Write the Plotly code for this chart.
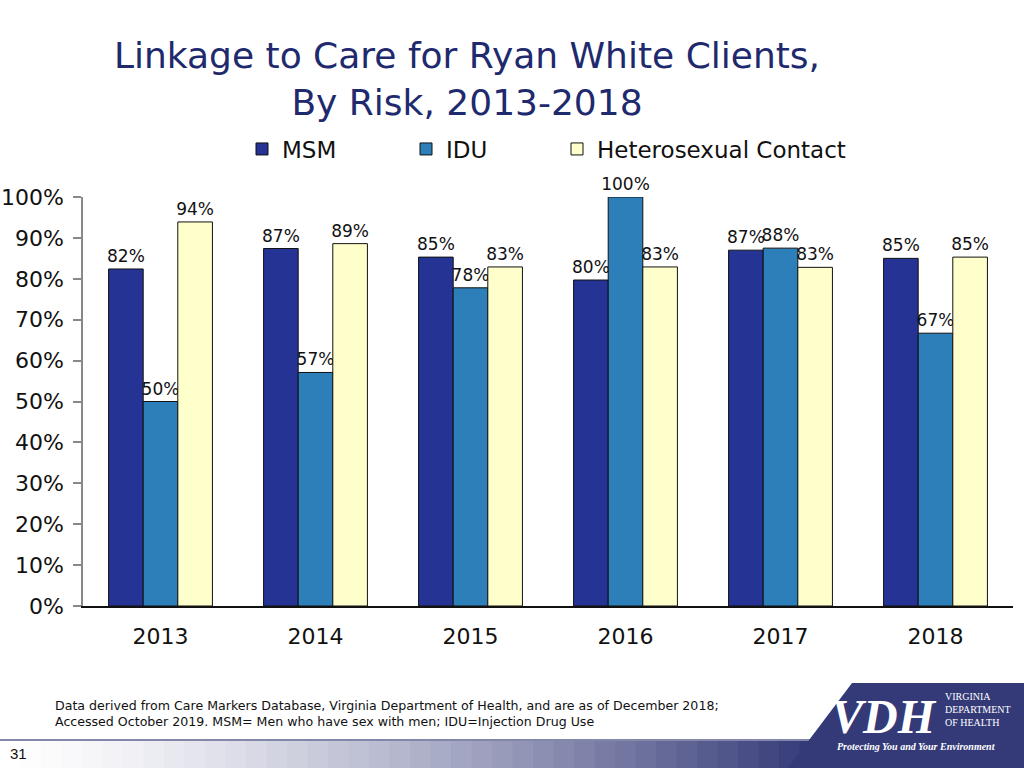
import plotly.graph_objects as go

years = ["2013", "2014", "2015", "2016", "2017", "2018"]
msm = [82.4, 87.4, 85.3, 79.7, 87.0, 85.0]
idu = [50.0, 57.1, 77.8, 100.0, 87.5, 66.7]
het = [93.9, 88.6, 82.9, 82.9, 82.8, 85.3]
series_names = ["MSM", "IDU", "Heterosexual Contact"]
y_ticks = [0, 10, 20, 30, 40, 50, 60, 70, 80, 90, 100]
y_tick_labels = [f"{v}%" for v in y_ticks]

colors = ["#253494", "#2C7FB8", "#FFFFCC"]
FONT = "DejaVu Sans, Open Sans, sans-serif"
SERIF = "Liberation Serif, DejaVu Serif, serif"

W, H = 1024, 768
L, R, T, B = 83, 11, 197, 162
pw, ph = W - L - R, H - T - B


def px(x):
    return (x - L) / pw


def py(y):
    return (H - B - y) / ph


legend_ids = ["legend", "legend2", "legend3"]
legend_text_x = [282, 446, 597]

fig = go.Figure()
for name, vals, c, lg in zip(series_names, [msm, idu, het], colors, legend_ids):
    fig.add_trace(go.Bar(
        x=years, y=vals, name=name, legend=lg, showlegend=True,
        marker=dict(color=c, line=dict(color="#111111", width=1)),
        texttemplate="%{y:.0f}%", textposition="outside",
        textfont=dict(size=17, color="#111111", family=FONT),
        cliponaxis=False,
    ))

shapes = []
# gradient band at bottom
n = 40
x0p, x1p = 0, 820
for i in range(n):
    t = (i / (n - 1)) ** 1.4
    r = int(255 + (52 - 255) * t)
    g = int(255 + (58 - 255) * t)
    b = int(255 + (120 - 255) * t)
    xa = x0p + (x1p - x0p) * i / n
    xb = x0p + (x1p - x0p) * (i + 1) / n + 1
    shapes.append(dict(type="rect", xref="paper", yref="paper",
                       x0=px(xa), x1=px(xb), y0=py(768), y1=py(741),
                       fillcolor=f"rgb({r},{g},{b})", line=dict(width=0), layer="below"))
shapes.append(dict(type="line", xref="paper", yref="paper",
                   x0=px(0), x1=px(1024), y0=py(740), y1=py(740),
                   line=dict(color="#5A5F8C", width=1.5)))
# logo parallelogram
path = f"M {px(788)} {py(768)} L {px(852)} {py(683)} L {px(1024)} {py(683)} L {px(1024)} {py(768)} Z"
shapes.append(dict(type="path", xref="paper", yref="paper", path=path,
                   fillcolor="#343A78", line=dict(width=0)))

annotations = [
    dict(text="Data derived from Care Markers Database, Virginia Department of Health, and are as of December 2018;<br>Accessed October 2019. MSM= Men who have sex with men; IDU=Injection Drug Use",
         xref="paper", yref="paper", x=px(53), y=py(713), xanchor="left", yanchor="middle",
         align="left", showarrow=False, font=dict(size=12.6, color="#111111", family=FONT)),
    dict(text="31", xref="paper", yref="paper", x=px(8), y=py(753), xanchor="left", yanchor="middle",
         showarrow=False, font=dict(size=15, color="#111111", family="Liberation Sans, sans-serif")),
    dict(text="<i><b>VDH</b></i>", xref="paper", yref="paper", x=px(884), y=py(716), xanchor="center", yanchor="middle",
         showarrow=False, font=dict(size=48, color="white", family=SERIF)),
    dict(text="VIRGINIA<br>DEPARTMENT<br>OF HEALTH", xref="paper", yref="paper", x=px(943), y=py(709), xanchor="left", yanchor="middle",
         align="left", showarrow=False, font=dict(size=10, color="white", family=SERIF)),
    dict(text="<i><b>Protecting You and Your Environment</b></i>", xref="paper", yref="paper", x=px(916), y=py(746), xanchor="center", yanchor="middle",
         showarrow=False, font=dict(size=10, color="white", family=SERIF)),
]

legend_common = dict(orientation="h", y=py(149), yanchor="middle", xanchor="left",
                     font=dict(size=23, color="#111111", family=FONT),
                     bgcolor="rgba(0,0,0,0)", visible=True)

fig.update_layout(
    width=W, height=H,
    margin=dict(l=L, r=R, t=T, b=B, autoexpand=False),
    paper_bgcolor="white", plot_bgcolor="white",
    showlegend=True,
    barmode="group", bargap=0.33, bargroupgap=0,
    title=dict(text="Linkage to Care for Ryan White Clients,<br>By Risk, 2013-2018",
               x=467 / W, xanchor="center", y=1 - 68 / H, yanchor="middle",
               font=dict(size=36, color="#1F2A6E", family=FONT)),
    legend=dict(x=px(legend_text_x[0] - 40), **legend_common),
    legend2=dict(x=px(legend_text_x[1] - 40), **legend_common),
    legend3=dict(x=px(legend_text_x[2] - 40), **legend_common),
    xaxis=dict(showline=True, linecolor="#111111", linewidth=1.5, ticks="",
               ticklabelstandoff=10,
               tickfont=dict(size=22, color="#111111", family=FONT), showgrid=False),
    yaxis=dict(range=[0, 100], tickvals=y_ticks, ticktext=y_tick_labels,
               showline=True, linecolor="#888888", linewidth=1.5,
               ticks="outside", ticklen=8, tickcolor="#888888", tickwidth=1.5,
               ticklabelstandoff=5,
               tickfont=dict(size=22, color="#111111", family=FONT),
               showgrid=False, zeroline=False),
    shapes=shapes, annotations=annotations,
    uniformtext=dict(mode="show", minsize=17),
)

fig.write_html("out.html", config={"displayModeBar": False},
               post_script="document.body.style.margin='0';document.body.style.overflow='hidden';")
